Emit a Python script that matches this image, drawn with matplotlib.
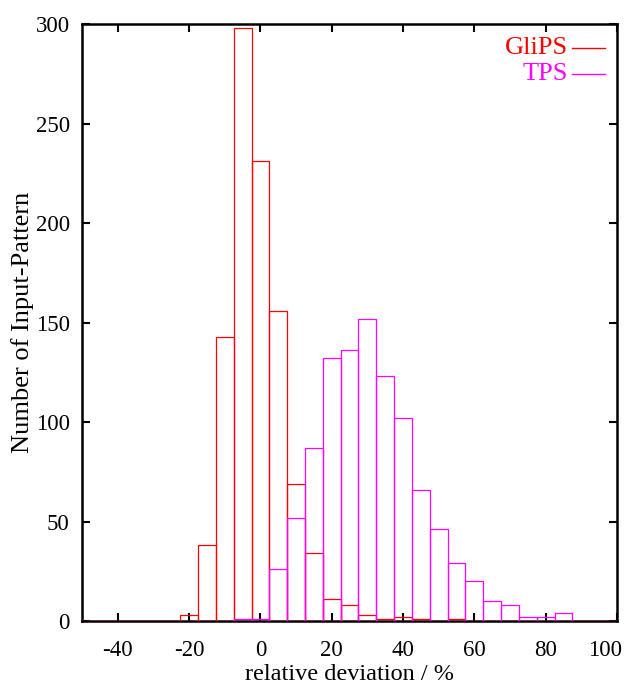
import matplotlib.pyplot as plt
from matplotlib.lines import Line2D
from matplotlib.transforms import ScaledTranslation

# bin centres (width 5) and counts
bin_centers = [-50, -45, -40, -35, -30, -25, -20, -15, -10, -5, 0, 5, 10, 15, 20,
               25, 30, 35, 40, 45, 50, 55, 60, 65, 70, 75, 80, 85, 90, 95, 100]
glips_counts = [0, 0, 0, 0, 0, 0, 3, 38, 143, 298, 231, 156, 69, 34, 11,
                8, 3, 1, 2, 1, 0, 1, 0, 0, 0, 0, 0, 0, 0, 0, 0]
tps_counts = [0, 0, 0, 0, 0, 0, 0, 0, 0, 1, 1, 26, 52, 87, 132,
              136, 152, 123, 102, 66, 46, 29, 20, 10, 8, 2, 2, 4, 0, 0, 0]
series_names = ["GliPS", "TPS"]
series_colors = ["#ff0000", "#ff00ff"]
x_ticks = [-40, -20, 0, 20, 40, 60, 80, 100]
y_ticks = [0, 50, 100, 150, 200, 250, 300]

plt.rcParams['font.family'] = ['Liberation Serif', 'DejaVu Serif']
plt.rcParams['axes.unicode_minus'] = False

fig = plt.figure(figsize=(6.27, 6.9), dpi=100)
ax = fig.add_axes([0.131, 0.1, 0.853, 0.865])

for counts, color in zip([glips_counts, tps_counts], series_colors):
    ax.bar(bin_centers, counts, width=5, fill=False, edgecolor=color,
           linewidth=0.9, zorder=3, clip_on=True)

ax.set_xlim(-50, 100)
ax.set_ylim(0, 300)
ax.set_xticks(x_ticks)
ax.set_yticks(y_ticks)
ax.tick_params(direction='in', length=6, width=1.5, labelsize=16.5,
               top=True, right=True)
ax.tick_params(axis='x', pad=14)
ax.tick_params(axis='y', pad=9)
for sp in ax.spines.values():
    sp.set_linewidth(1.8)
    sp.set_zorder(2)

# last x label sits slightly left of its tick so it stays inside the figure
last = ax.get_xticklabels()[-1]
last.set_transform(last.get_transform() +
                   ScaledTranslation(-0.12, 0, fig.dpi_scale_trans))

ax.set_xlabel("relative deviation / %", fontsize=17.5, labelpad=2)
ax.set_ylabel("Number of Input-Pattern", fontsize=19, labelpad=1)

# gnuplot-style key: right-aligned text followed by a short line sample
key_y = [0.960, 0.917]
for name, color, ky in zip(series_names, series_colors, key_y):
    ax.text(0.908, ky, name, color=color, fontsize=19, ha='right', va='center',
            transform=ax.transAxes)
    ax.add_line(Line2D([0.916, 0.978], [ky, ky], color=color, linewidth=1.0,
                       transform=ax.transAxes))

fig.savefig("out.png", dpi=100)
